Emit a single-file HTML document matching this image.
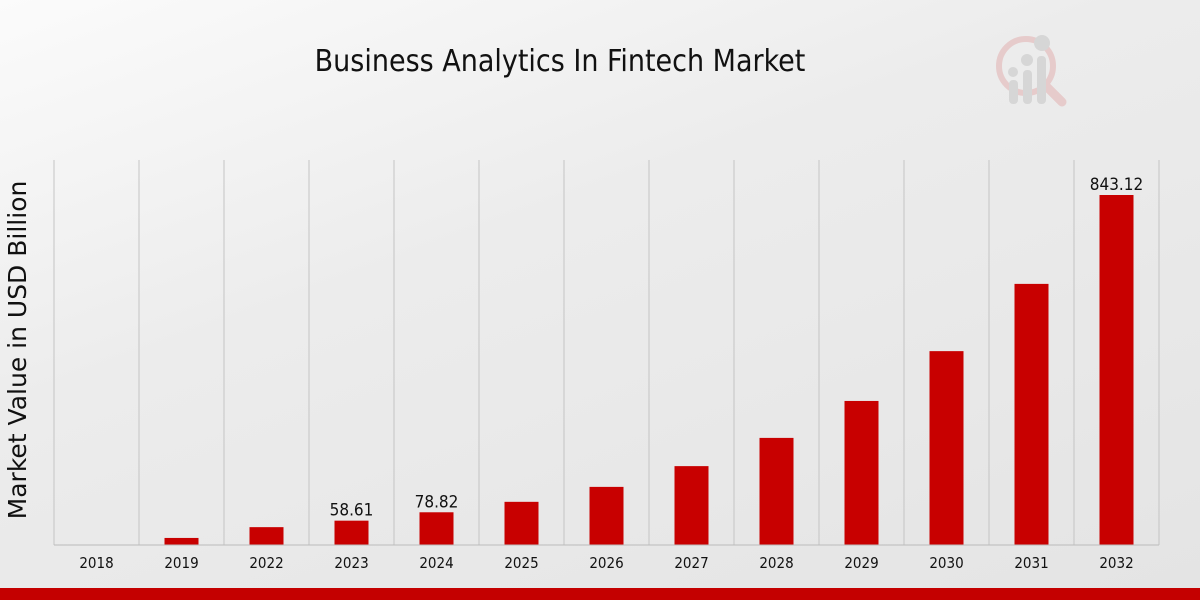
<!DOCTYPE html>
<html><head><meta charset="utf-8"><style>
body{margin:0;width:1200px;height:600px;overflow:hidden;font-family:"DejaVu Sans Condensed","Liberation Sans",sans-serif;}
#bg{position:absolute;left:0;top:0;width:1200px;height:600px;background:linear-gradient(160deg,#fbfbfb 0%,#ececec 40%,#e4e4e4 100%);}
</style></head><body>
<div id="bg"></div>
<svg id="chart" width="1200" height="600" style="position:absolute;left:0;top:0">
<text x="560" y="71" text-anchor="middle" font-size="30" fill="#111" style="font-family:'DejaVu Sans Condensed','Liberation Sans Narrow',sans-serif">Business Analytics In Fintech Market</text>
<text transform="translate(26,350) rotate(-90)" text-anchor="middle" font-size="25" fill="#111" style="font-family:'DejaVu Sans',sans-serif">Market Value in USD Billion</text>
<g opacity="0.9">
<circle cx="1026" cy="66" r="27" fill="none" stroke="#e6c8c8" stroke-width="6"/>
<line x1="1046" y1="86" x2="1062" y2="102" stroke="#e6c8c8" stroke-width="9" stroke-linecap="round"/>
<rect x="1009" y="80" width="9" height="24" rx="4" fill="#d4d4d4"/>
<rect x="1023" y="70" width="9" height="34" rx="4" fill="#d4d4d4"/>
<rect x="1037" y="56" width="9" height="48" rx="4" fill="#d4d4d4"/>
<circle cx="1013" cy="72" r="5" fill="#d4d4d4"/><circle cx="1027" cy="60" r="6" fill="#d4d4d4"/><circle cx="1042" cy="43" r="8" fill="#d4d4d4"/>
</g>
<g id="grid"></g><g id="bars"></g><g id="labels"></g>
<line x1="54" y1="545" x2="1159" y2="545" stroke="#bbb"/>
<rect x="0" y="588" width="1200" height="12" fill="#c40000"/>
</svg>
<script>
const categories=["2018","2019","2022","2023","2024","2025","2026","2027","2028","2029","2030","2031","2032"];
const values=[0,17,43,58.61,78.82,104,140,190,258,347,467,629,843.12];
const shownLabels=["","","","58.61","78.82","","","","","","","","843.12"];
const x0=54,x1=1159,y0=545,yTop=195,vMax=843.12;
const bw=(x1-x0)/categories.length;
const yScale=v=>y0-(v/vMax)*(y0-yTop);
const xScale=i=>x0+bw*i;
const ns="http://www.w3.org/2000/svg";
const grid=document.getElementById('grid'),bars=document.getElementById('bars'),labels=document.getElementById('labels');
for(let i=0;i<=categories.length;i++){
 const l=document.createElementNS(ns,'line');
 
 
 l.setAttribute('x1',xScale(i));l.setAttribute('x2',xScale(i));l.setAttribute('y1',160);l.setAttribute('y2',545);
 l.setAttribute('stroke','#c4c4c4');grid.appendChild(l);
}
categories.forEach((c,i)=>{
 const cx=xScale(i)+bw/2;
 const r=document.createElementNS(ns,'rect');
 
 
 const y=yScale(values[i]);
 r.setAttribute('x',cx-17);r.setAttribute('width',34);r.setAttribute('y',y);r.setAttribute('height',y0-y);
 r.setAttribute('fill','#c80000');bars.appendChild(r);
 const t=document.createElementNS(ns,'text');
 
 
 t.setAttribute('x',cx);t.setAttribute('y',568);t.setAttribute('text-anchor','middle');t.setAttribute('font-size','15');t.setAttribute('fill','#111');
 t.textContent=c;labels.appendChild(t);
 if(shownLabels[i]){
  const v=document.createElementNS(ns,'text');
  
  
  v.setAttribute('x',cx);v.setAttribute('y',y-5);v.setAttribute('text-anchor','middle');v.setAttribute('font-size','17');v.setAttribute('fill','#111');
  v.textContent=shownLabels[i];labels.appendChild(v);
 }
});
</script>
</body></html>
